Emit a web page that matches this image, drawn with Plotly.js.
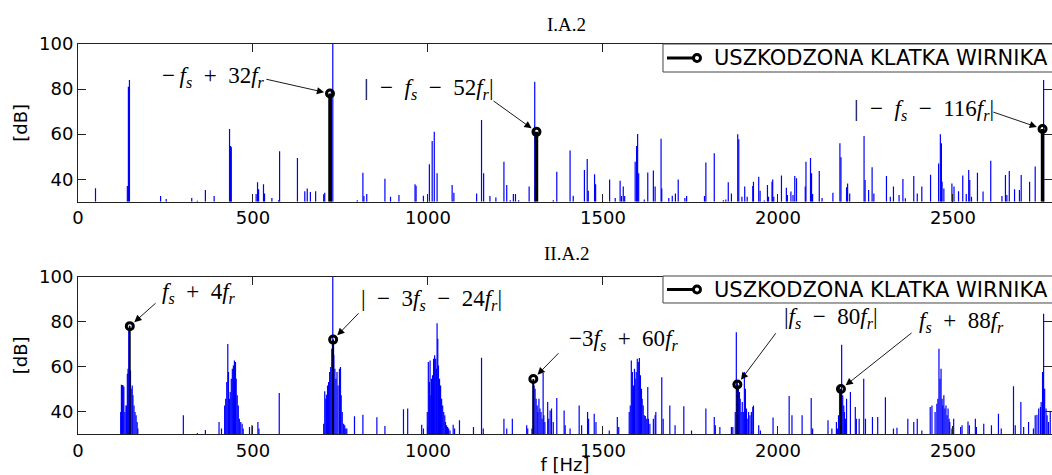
<!DOCTYPE html>
<html>
<head>
<meta charset="utf-8">
<script src="https://cdn.plot.ly/plotly-3.0.1.min.js"></script>
<style>
  html, body { margin: 0; padding: 0; background: #fff; }
  #chart { width: 1052px; height: 475px; }
</style>
</head>
<body>
<div id="chart"></div>
<script>
// ---- Spectrum I.A.2 : frequency [Hz] and level [dB] of each spectral line ----
const freqTop = [
  50, 141, 144, 147, 236, 252, 325, 341, 364, 389,
  433, 436, 438, 509, 513, 516, 530, 533, 554, 573,
  576, 627, 648, 655, 664, 679, 702, 705, 724, 728,
  798, 814, 817, 825, 877, 893, 917, 963, 966, 987,
  1004, 1012, 1018, 1026, 1069, 1074, 1139, 1153, 1159, 1177,
  1194, 1217, 1225, 1235, 1244, 1250, 1259, 1289, 1305, 1358,
  1368, 1406, 1415, 1447, 1455, 1458, 1476, 1479, 1519, 1535,
  1549, 1553, 1558, 1562, 1592, 1596, 1599, 1602, 1618, 1628,
  1644, 1649, 1666, 1668, 1688, 1698, 1707, 1715, 1734, 1739,
  1790, 1794, 1818, 1844, 1851, 1858, 1867, 1885, 1888, 1897,
  1905, 1912, 1928, 1930, 1945, 1949, 1961, 1970, 1973, 1983,
  1985, 1988, 2010, 2024, 2027, 2037, 2043, 2048, 2053, 2078,
  2080, 2093, 2096, 2099, 2118, 2126, 2157, 2177, 2180, 2196,
  2199, 2205, 2246, 2249, 2259, 2269, 2274, 2310, 2321, 2330,
  2346, 2357, 2364, 2388, 2398, 2411, 2436, 2459, 2464, 2467,
  2469, 2474, 2497, 2503, 2516, 2528, 2538, 2545, 2548, 2553,
  2570, 2586, 2608, 2640, 2650, 2654, 2661, 2676, 2690, 2695,
  2719, 2735, 2759
];
const ampTop = [
  36, 37, 81, 84, 32.5, 31.2, 31.6, 30.4, 35.2, 32.5,
  62.3, 54.7, 54.2, 33.4, 38.6, 35.5, 37.7, 33.7, 31.6, 30.7,
  52.4, 49.4, 34.7, 35.9, 34.3, 34.7, 33.3, 34, 79, 100,
  30.7, 42.9, 32.5, 33.4, 40.2, 32.2, 33, 37.7, 37.1, 32.7,
  46.6, 57, 61, 42.6, 37.4, 34, 33.7, 66.3, 42.6, 32.5,
  31.9, 47.7, 37.4, 30.7, 33.4, 33.4, 30.7, 36.7, 83.2, 30.7,
  43.3, 52.7, 32.7, 44.1, 49, 34.9, 42.2, 37.7, 39.9, 31.6,
  39.3, 32.5, 36.7, 32.5, 47.7, 54.7, 60, 42.6, 31, 43,
  43.8, 36.7, 58, 35.9, 31.6, 32.7, 33.7, 39.9, 31.6, 32.5,
  32.5, 47.4, 51.5, 30.7, 31, 38.6, 33.7, 59.9, 57.7, 32.2,
  36.7, 32.2, 37, 38.9, 41.1, 34.9, 30.5, 37.4, 32.2, 38.9,
  39.9, 32.2, 41.6, 36.2, 33, 34.5, 33, 41.4, 40.4, 36.8,
  47.7, 49.4, 42.6, 33.4, 43.6, 31.6, 34, 55.9, 49.7, 36.4,
  38.1, 33.7, 59.2, 39.6, 35.2, 45.3, 33.7, 41.4, 32.2, 36.7,
  33, 40.1, 31.5, 41.4, 33.7, 36.7, 42, 47, 59.9, 55.9,
  38.9, 35.9, 38.1, 36.7, 34.7, 41.6, 33.4, 44.1, 39.6, 32.2,
  42.9, 34.5, 48.2, 32.5, 41.9, 33, 43.6, 35.5, 35.2, 41.9,
  38.9, 45.6, 84
];

// ---- Spectrum II.A.2 ----
const freqBottom = [
  122, 124, 127, 129, 131, 134, 137, 139, 141, 143,
  145, 147, 149, 150, 152, 155, 157, 160, 163, 166,
  169, 171, 301, 341, 364, 403, 410, 419, 422, 425,
  428, 430, 433, 435, 438, 441, 444, 447, 450, 452,
  455, 458, 461, 465, 469, 472, 490, 497, 514, 517,
  575, 702, 705, 708, 710, 713, 716, 719, 722, 725,
  727, 728, 730, 731, 734, 737, 740, 743, 747, 750,
  752, 755, 759, 762, 765, 768, 790, 814, 854, 877,
  930, 942, 982, 987, 998, 1001, 1004, 1006, 1008, 1010,
  1013, 1016, 1019, 1022, 1024, 1026, 1028, 1030, 1033, 1036,
  1039, 1042, 1045, 1048, 1050, 1053, 1056, 1059, 1063, 1072,
  1076, 1090, 1130, 1153, 1158, 1217, 1225, 1241, 1282, 1285,
  1297, 1300, 1303, 1306, 1309, 1312, 1314, 1317, 1320, 1323,
  1326, 1329, 1331, 1334, 1342, 1345, 1349, 1353, 1358, 1368,
  1389, 1392, 1406, 1432, 1439, 1456, 1459, 1475, 1480, 1518,
  1541, 1545, 1575, 1578, 1581, 1584, 1587, 1590, 1592, 1595,
  1598, 1601, 1604, 1607, 1610, 1612, 1615, 1618, 1621, 1625,
  1628, 1630, 1634, 1644, 1649, 1651, 1668, 1672, 1691, 1706,
  1731, 1753, 1794, 1818, 1821, 1834, 1867, 1871, 1878, 1881,
  1884, 1887, 1890, 1892, 1895, 1898, 1901, 1904, 1907, 1910,
  1912, 1916, 1920, 1924, 1928, 1930, 1945, 1950, 1986, 2032,
  2040, 2069, 2095, 2099, 2143, 2154, 2167, 2170, 2173, 2176,
  2179, 2182, 2185, 2188, 2190, 2193, 2196, 2207, 2221, 2224,
  2232, 2245, 2250, 2270, 2285, 2307, 2330, 2340, 2371, 2388,
  2398, 2411, 2435, 2440, 2449, 2454, 2457, 2460, 2463, 2466,
  2469, 2471, 2474, 2477, 2480, 2483, 2486, 2489, 2491, 2497,
  2502, 2522, 2526, 2543, 2547, 2564, 2567, 2588, 2610, 2630,
  2638, 2673, 2678, 2694, 2702, 2716, 2730, 2735, 2740, 2745,
  2750, 2752, 2756, 2759, 2762, 2766, 2769, 2773, 2778
];
const ampBottom = [
  39.8, 51.9, 51.8, 51.6, 51, 39.8, 42.7, 42.7, 56.8, 59,
  77.1, 78.3, 57.6, 58.3, 50.1, 51.6, 47.2, 42.7, 39.8, 38.3,
  35.3, 32.4, 38.3, 30.4, 31.8, 35.3, 32.4, 42.7, 45.7, 53.1,
  70.1, 57.6, 45.7, 48.7, 54.6, 59, 60.5, 62.7, 62, 54.6,
  47.2, 42.7, 36.8, 35.3, 34.6, 32.4, 33.1, 33.9, 35.3, 32.4,
  48.2, 34.6, 49, 45.7, 47.5, 51.6, 53.1, 57.6, 59.8, 67.9,
  70.9, 100, 70.9, 65, 59, 54.6, 57.6, 51.6, 59, 59.8,
  47.2, 39.8, 34.6, 33.9, 32.4, 32.4, 37.9, 38.6, 37.4, 33.6,
  41, 41.3, 34.1, 32.4, 39.8, 62, 53.1, 62.7, 47.2, 54.6,
  56.1, 63.5, 65, 63.5, 59, 79.3, 72.4, 60.5, 54.6, 51.6,
  45.7, 42.7, 39.8, 38.3, 35.3, 33.9, 33.1, 32.4, 31.6, 34.1,
  32.4, 36.1, 33.1, 63.9, 32.4, 36.8, 32.4, 36.8, 33.9, 32.4,
  32.4, 53.1, 51.6, 50.1, 45.7, 42.7, 39.8, 45.7, 41.3, 39.8,
  36.8, 57.1, 38.3, 35.3, 44.2, 36.8, 40.5, 41.3, 35.3, 46,
  40.5, 33.9, 32.4, 42.7, 33.9, 39.8, 36.8, 39, 35.3, 31.6,
  37.6, 33.1, 39.8, 42.7, 62.7, 57.6, 51.6, 59, 54.6, 57.6,
  63.5, 62, 63.8, 56.1, 50.1, 45.7, 42.7, 38.3, 38, 36.8,
  50.9, 36.8, 34.6, 36.8, 38.3, 39.8, 55.3, 36.8, 42.7, 33.9,
  42.3, 31.6, 41.3, 37.6, 33.9, 33.1, 33.1, 33.1, 39.8, 75.3,
  53.1, 51.6, 48.7, 45.7, 39.8, 44.2, 39.8, 57.6, 50.1, 41.3,
  36.8, 39.8, 38.3, 39.8, 42, 42.7, 33.9, 31.6, 37.3, 46.9,
  38.3, 38.3, 46, 32.4, 36.1, 32.4, 35.3, 32.4, 38.3, 51.6,
  50.1, 69.7, 47.2, 42.7, 39.8, 36.8, 45.7, 48.7, 42, 36.8,
  36.8, 54.6, 36.8, 37.6, 37.6, 46.4, 32.4, 32.8, 36.8, 35.3,
  36.8, 31.6, 42, 42.7, 39.8, 43.5, 45.7, 67.9, 54.6, 59,
  45.7, 42.7, 47.2, 41.3, 42.7, 38.3, 41.3, 36.8, 35.3, 32.4,
  36.8, 33.1, 33.9, 35.6, 33.9, 36.8, 33.1, 34.6, 33.9, 39,
  32.4, 51.2, 33.9, 44.2, 33.1, 35.3, 32.4, 38.3, 38.6, 41.3,
  42, 44.2, 57.6, 83.5, 50.1, 41.3, 38.3, 35.3, 39.8
];

// ---- Rotor cage fault components ----
const SP = '\u2002';   // wide gap around binary operators
const faultFreqTop = [720, 1310, 2756];
const faultAmpTop = [78, 61, 62.3];
const faultLabelTop = [
  '−\u2009<i>f</i><sub><i>s</i></sub>' + SP + '+' + SP + '32<i>f</i><sub><i>r</i></sub>',
  '|' + SP + '−' + SP + '<i>f</i><sub><i>s</i></sub>' + SP + '−' + SP + '52<i>f</i><sub><i>r</i></sub>|',
  '|' + SP + '−' + SP + '<i>f</i><sub><i>s</i></sub>' + SP + '−' + SP + '116<i>f</i><sub><i>r</i></sub>|'
];
const faultFreqBottom = [148, 729, 1301, 1884, 2180];
const faultAmpBottom = [78, 72, 54.5, 52, 50];
const faultLabelBottom = [
  '<i>f</i><sub><i>s</i></sub>' + SP + '+' + SP + '4<i>f</i><sub><i>r</i></sub>',
  '|' + SP + '−' + SP + '3<i>f</i><sub><i>s</i></sub>' + SP + '−' + SP + '24<i>f</i><sub><i>r</i></sub>|',
  '−3<i>f</i><sub><i>s</i></sub>' + SP + '+' + SP + '60<i>f</i><sub><i>r</i></sub>',
  '|<i>f</i><sub><i>s</i></sub>' + SP + '−' + SP + '80<i>f</i><sub><i>r</i></sub>|',
  '<i>f</i><sub><i>s</i></sub>' + SP + '+' + SP + '88<i>f</i><sub><i>r</i></sub>'
];
const panelTitles = ['I.A.2', 'II.A.2'];
const legendName = 'USZKODZONA KLATKA WIRNIKA';
const xTicks = [0, 500, 1000, 1500, 2000, 2500];
const yTicks = [40, 60, 80, 100];

// label placement: [text x, text y, arrow tail x, arrow tail y] in data units
const labelPosTop = [[386, 85.4, 534, 84.5], [1002, 80.1, 1183, 75.2], [2416, 70.8, 2611, 70]];
const labelPosBottom = [[347, 92.7, 226, 88.8], [1009, 89.6, 806, 84.4], [1559, 71.8, 1377, 66.6],
                        [2151, 81.6, 1997, 75.5], [2524, 79.9, 2386, 75.5]];

const BASE = 30;

// stem polylines: vertical segment from the base level to each value
function stems(freqs, amps) {
  const x = [], y = [];
  freqs.forEach((f, i) => { x.push(f, f, null); y.push(BASE, amps[i], null); });
  return { x, y };
}
// isolated points (null between them so no connecting segments are drawn)
function points(freqs, amps) {
  const x = [], y = [];
  freqs.forEach((f, i) => { x.push(f, null); y.push(amps[i], null); });
  return { x, y };
}

function panelTraces(freqs, amps, fFreq, fAmp, xa, ya, stemWidth) {
  const s = stems(freqs, amps);
  const fs = stems(fFreq, fAmp);
  const fp = points(fFreq, fAmp);
  return [
    { type: 'scatter', mode: 'lines', x: s.x, y: s.y, xaxis: xa, yaxis: ya,
      line: { color: '#0000ff', width: 1.2 }, showlegend: false, hoverinfo: 'skip' },
    { type: 'scatter', mode: 'lines', x: fs.x, y: fs.y, xaxis: xa, yaxis: ya,
      line: { color: '#000', width: stemWidth }, showlegend: false, hoverinfo: 'skip' },
    { type: 'scatter', mode: 'markers', x: fp.x, y: fp.y, xaxis: xa, yaxis: ya,
      name: legendName, showlegend: false,
      marker: { symbol: 'circle-open', size: 7, color: '#000', line: { width: 3, color: '#000' } } }
  ];
}

const traces = [
  ...panelTraces(freqTop, ampTop, faultFreqTop, faultAmpTop, 'x', 'y', 3.5),
  ...panelTraces(freqBottom, ampBottom, faultFreqBottom, faultAmpBottom, 'x2', 'y2', 1.8)
];

const mathFont = { family: 'Liberation Serif, Times New Roman, serif', size: 23, color: '#000' };
const annotations = [];
const shapes = [];
function addLabels(labels, pos, fFreq, fAmp, xr, yr) {
  labels.forEach((txt, i) => {
    const p = pos[i];
    annotations.push({ xref: xr, yref: yr, x: p[0], y: p[1], text: txt, showarrow: false,
      xanchor: 'center', yanchor: 'middle', font: mathFont });
    annotations.push({ xref: xr, yref: yr, x: fFreq[i], y: fAmp[i], text: '',
      showarrow: true, axref: xr, ayref: yr, ax: p[2], ay: p[3],
      arrowhead: 2, arrowsize: 1.6, arrowwidth: 0.9, arrowcolor: '#000', standoff: 6 });
  });
}
addLabels(faultLabelTop, labelPosTop, faultFreqTop, faultAmpTop, 'x', 'y');
addLabels(faultLabelBottom, labelPosBottom, faultFreqBottom, faultAmpBottom, 'x2', 'y2');

const titleFont = { family: 'Liberation Serif, Times New Roman, serif', size: 19, color: '#000' };
annotations.push({ xref: 'paper', yref: 'paper', x: 0.502, y: 1.051, text: panelTitles[0],
  showarrow: false, xanchor: 'center', yanchor: 'middle', font: titleFont });
annotations.push({ xref: 'paper', yref: 'paper', x: 0.502, y: 0.464, text: panelTitles[1],
  showarrow: false, xanchor: 'center', yanchor: 'middle', font: titleFont });

// legend key box in the upper right corner of each panel (paper units)
function addKey(yTop, yBottom) {
  const yMid = (yTop + yBottom) / 2;
  shapes.push({ type: 'rect', xref: 'paper', yref: 'paper', x0: 0.6006, x1: 1.03, y0: yBottom, y1: yTop,
    line: { color: '#444', width: 1 }, fillcolor: '#fff', layer: 'above' });
  shapes.push({ type: 'line', xref: 'paper', yref: 'paper', x0: 0.6047, x1: 0.6355, y0: yMid, y1: yMid,
    line: { color: '#000', width: 3 }, layer: 'above' });
  shapes.push({ type: 'circle', xref: 'paper', yref: 'paper', xsizemode: 'pixel', ysizemode: 'pixel',
    xanchor: 0.6355, yanchor: yMid, x0: -3.5, x1: 3.5, y0: -3.5, y1: 3.5,
    line: { color: '#000', width: 3 }, fillcolor: '#fff', layer: 'above' });
  annotations.push({ xref: 'paper', yref: 'paper', x: 0.6509, y: yMid, text: legendName,
    showarrow: false, xanchor: 'left', yanchor: 'middle',
    font: { family: 'DejaVu Sans', size: 21, color: '#000' } });
}
addKey(1.0, 0.9282);
addKey(0.4051, 0.3359);

const axisCommon = {
  showline: true, linecolor: '#222', linewidth: 1, mirror: 'ticks',
  ticks: 'inside', ticklen: 8, tickwidth: 1, tickcolor: '#222',
  showgrid: false, zeroline: false,
  tickfont: { family: 'DejaVu Sans', size: 18, color: '#000' }
};
const xCommon = Object.assign({}, axisCommon, { range: [0, 2783], tickvals: xTicks, ticktext: xTicks.map(String) });
const yCommon = Object.assign({}, axisCommon, { range: [BASE, 100], tickvals: yTicks, ticktext: yTicks.map(String) });

const layout = {
  width: 1052, height: 475,
  margin: { l: 78, r: 0, t: 44, b: 41, autoexpand: false },
  paper_bgcolor: '#fff', plot_bgcolor: '#fff',
  showlegend: false,
  font: { family: 'DejaVu Sans', size: 18, color: '#000' },
  xaxis: Object.assign({}, xCommon, { domain: [0, 1], anchor: 'y' }),
  yaxis: Object.assign({}, yCommon, { domain: [0.5956, 1], anchor: 'x',
    title: { text: '[dB]', standoff: 6, font: { family: 'DejaVu Sans', size: 18 } } }),
  xaxis2: Object.assign({}, xCommon, { domain: [0, 1], anchor: 'y2',
    title: { text: 'f [Hz]', standoff: 2, font: { family: 'DejaVu Sans', size: 18 } } }),
  yaxis2: Object.assign({}, yCommon, { domain: [0, 0.4033], anchor: 'x2',
    title: { text: '[dB]', standoff: 6, font: { family: 'DejaVu Sans', size: 18 } } }),
  shapes: shapes,
  annotations: annotations
};

Plotly.newPlot('chart', traces, layout, { displayModeBar: false, staticPlot: true });
</script>
</body>
</html>
